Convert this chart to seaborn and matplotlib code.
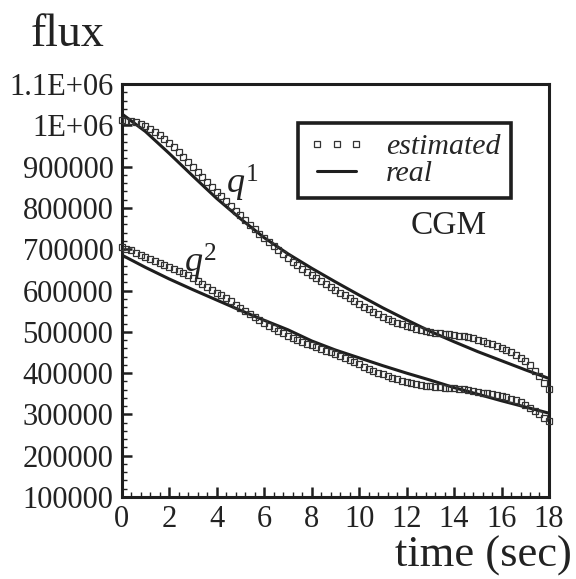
import numpy as np
import pandas as pd
import matplotlib
matplotlib.use('Agg')
import matplotlib.pyplot as plt
import seaborn as sns
from matplotlib.lines import Line2D
from matplotlib.ticker import MultipleLocator, FixedLocator, FixedFormatter

# ---------------- data ----------------
time_real = list(range(19))
q1_real = [1028000, 985000, 932000, 877000, 823000, 774000, 728000, 689000, 654000, 621000,
           589000, 558000, 529000, 501000, 476000, 452000, 430000, 408000, 387000]
q2_real = [686000, 656000, 628000, 602000, 577000, 552000, 528000, 505000, 478000, 456000,
           437000, 418000, 400000, 383000, 365000, 349000, 333000, 318000, 303000]

time_est = np.round(np.arange(0, 18.0001, 0.2), 1)
q1_est = [1012, 1011, 1010, 1007, 1003, 998, 991, 984, 976, 967,
          958, 948, 936, 924, 911, 898, 886, 874, 862, 851,
          839, 828, 816, 805, 793, 782, 770, 759, 748, 738,
          728, 718, 708, 698, 688, 679, 670, 661, 653, 645,
          637, 630, 623, 616, 609, 602, 595, 588, 581, 574,
          567, 561, 555, 549, 543, 537, 531, 526, 522, 518,
          514, 511, 508, 505, 502, 500, 498, 497, 495, 494,
          492, 491, 489, 487, 484, 481, 478, 474, 470, 466,
          461, 456, 450, 444, 437, 429, 419, 406, 392, 377, 362]
q2_est = [705, 701, 697, 692, 687, 682, 677, 672, 667, 662,
          658, 653, 648, 643, 637, 630, 623, 616, 609, 602,
          595, 589, 582, 574, 566, 558, 550, 542, 535, 528,
          521, 515, 509, 502, 496, 490, 485, 480, 476, 471,
          467, 463, 459, 454, 450, 446, 441, 437, 432, 426,
          421, 416, 411, 406, 401, 397, 393, 389, 385, 382,
          379, 376, 374, 372, 370, 368, 367, 366, 365, 364,
          363, 362, 361, 359, 357, 355, 353, 351, 349, 347,
          344, 341, 338, 334, 329, 322, 315, 308, 300, 292, 283]
q1_est = [v * 1000 for v in q1_est]
q2_est = [v * 1000 for v in q2_est]

x_ticks = [0, 2, 4, 6, 8, 10, 12, 14, 16, 18]
y_ticks = [100000, 200000, 300000, 400000, 500000, 600000, 700000, 800000, 900000, 1000000, 1100000]
y_tick_labels = ['100000', '200000', '300000', '400000', '500000', '600000',
                 '700000', '800000', '900000', '1E+06', '1.1E+06']
legend_labels = ['estimated', 'real']

# ---------------- style ----------------
sns.set_style('ticks')
plt.rcParams['font.family'] = ['Liberation Serif', 'DejaVu Serif']
plt.rcParams['mathtext.fontset'] = 'custom'
plt.rcParams['mathtext.rm'] = 'Liberation Serif'
plt.rcParams['mathtext.it'] = 'Liberation Serif:italic'

ink = '#1e1e1e'
sq = '#333333'

fig = plt.figure(figsize=(5.76, 5.79), dpi=100)
ax = fig.add_axes([0.2113, 0.1416, 0.7418, 0.7133])

df_real = pd.DataFrame({'time': time_real * 2,
                        'flux': q1_real + q2_real,
                        'series': ['q1'] * len(time_real) + ['q2'] * len(time_real)})
df_est = pd.DataFrame({'time': list(time_est) * 2,
                       'flux': q1_est + q2_est,
                       'series': ['q1'] * len(time_est) + ['q2'] * len(time_est)})

for s in ['q1', 'q2']:
    sns.lineplot(data=df_est[df_est.series == s], x='time', y='flux', ax=ax,
                 estimator=None, sort=True, linestyle='none', marker='s',
                 markersize=3.9, markerfacecolor='none', markeredgecolor=sq,
                 markeredgewidth=0.9, clip_on=False, zorder=3)
    sns.lineplot(data=df_real[df_real.series == s], x='time', y='flux', ax=ax,
                 estimator=None, sort=True, color=ink, linewidth=2.2, zorder=2)

ax.set_xlim(0, 18)
ax.set_ylim(100000, 1100000)
ax.xaxis.set_major_locator(FixedLocator(x_ticks))
ax.xaxis.set_minor_locator(MultipleLocator(0.4))
ax.yaxis.set_major_locator(FixedLocator(y_ticks))
ax.yaxis.set_major_formatter(FixedFormatter(y_tick_labels))
ax.yaxis.set_minor_locator(MultipleLocator(20000))
ax.set_xlabel('')
ax.set_ylabel('')

ax.tick_params(which='major', direction='in', length=7, width=1.8, color=ink,
               labelsize=22, pad=6, top=False, right=False, labelcolor='#222222')
ax.tick_params(which='minor', direction='in', length=3.5, width=1.0, color=ink,
               top=False, right=False)
for sp in ax.spines.values():
    sp.set_linewidth(2.2)
    sp.set_color(ink)
    sp.set_visible(True)

handles = [Line2D([], [], marker='s', linestyle='none', markerfacecolor='none',
                  markeredgecolor=sq, markersize=4.2, markeredgewidth=0.9),
           Line2D([], [], color=ink, linewidth=2.2)]
leg = ax.legend(handles, legend_labels, loc='upper left', bbox_to_anchor=(0.4126, 0.9056),
                numpoints=3, prop={'family': 'Liberation Serif', 'style': 'italic', 'size': 21.5},
                frameon=True, fancybox=False, framealpha=1, edgecolor=ink,
                borderpad=0.35, labelspacing=0.0, handlelength=1.9, handletextpad=0.7,
                borderaxespad=0)
leg.get_frame().set_linewidth(2.6)

ax.text(5.1, 860000, r'$q^1$', fontsize=26, ha='center', va='center', color='#222222')
ax.text(3.3, 669000, r'$q^2$', fontsize=26, ha='center', va='center', color='#222222')
ax.text(13.79, 758000, 'CGM', fontsize=24, ha='center', va='center', color='#222222')

fig.text(0.118, 0.94, 'flux', fontsize=33, ha='center', va='center', color='#222222')
fig.text(0.839, 0.04, 'time (sec)', fontsize=32, ha='center', va='center', color='#222222')

fig.savefig('out.png', dpi=100)
